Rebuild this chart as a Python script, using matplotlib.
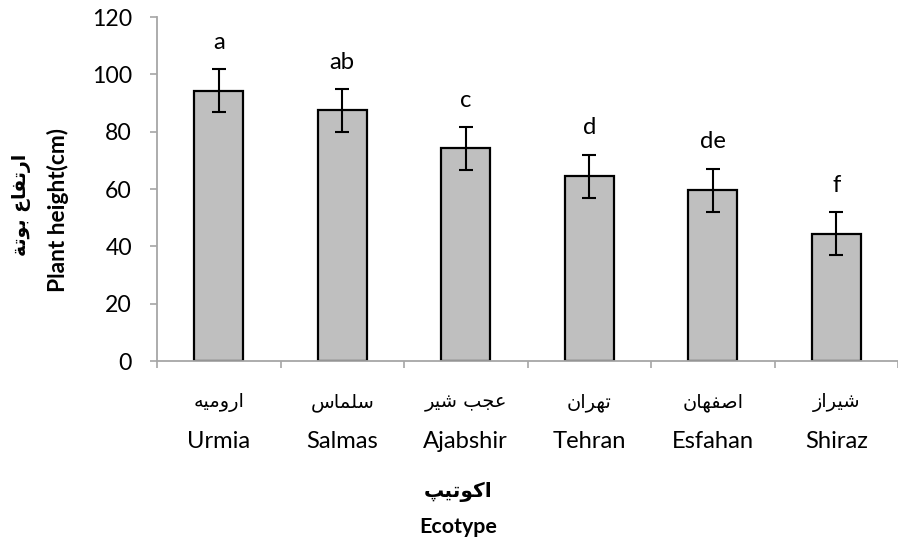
import matplotlib
matplotlib.use("Agg")
import matplotlib.pyplot as plt
from matplotlib.transforms import blended_transform_factory

# ---------------- data ----------------
ecotypes_en = ["Urmia", "Salmas", "Ajabshir", "Tehran", "Esfahan", "Shiraz"]
ecotypes_fa = ["ارومیه", "سلماس", "عجب شیر", "تهران", "اصفهان", "شیراز"]
heights = [94.3, 87.5, 74.2, 64.5, 59.6, 44.4]
errors = [7.5, 7.5, 7.5, 7.5, 7.5, 7.5]
letters = ["a", "ab", "c", "d", "de", "f"]
y_ticks = [0, 20, 40, 60, 80, 100, 120]
ylabel_fa = "ارتفاع بوتة"
ylabel_en = "Plant height(cm)"
xlabel_fa = "اکوتیپ"
xlabel_en = "Ecotype"

# ---------------- minimal Arabic/Persian shaping ----------------
FORMS = {  # iso, fin, ini, med
    "\u0627": ("\uFE8D", "\uFE8E", None, None),
    "\u0628": ("\uFE8F", "\uFE90", "\uFE91", "\uFE92"),
    "\u0629": ("\uFE93", "\uFE94", None, None),
    "\u062A": ("\uFE95", "\uFE96", "\uFE97", "\uFE98"),
    "\u062C": ("\uFE9D", "\uFE9E", "\uFE9F", "\uFEA0"),
    "\u0631": ("\uFEAD", "\uFEAE", None, None),
    "\u0632": ("\uFEAF", "\uFEB0", None, None),
    "\u0633": ("\uFEB1", "\uFEB2", "\uFEB3", "\uFEB4"),
    "\u0634": ("\uFEB5", "\uFEB6", "\uFEB7", "\uFEB8"),
    "\u0635": ("\uFEB9", "\uFEBA", "\uFEBB", "\uFEBC"),
    "\u0639": ("\uFEC9", "\uFECA", "\uFECB", "\uFECC"),
    "\u0641": ("\uFED1", "\uFED2", "\uFED3", "\uFED4"),
    "\u0643": ("\uFED9", "\uFEDA", "\uFEDB", "\uFEDC"),
    "\u0644": ("\uFEDD", "\uFEDE", "\uFEDF", "\uFEE0"),
    "\u0645": ("\uFEE1", "\uFEE2", "\uFEE3", "\uFEE4"),
    "\u0646": ("\uFEE5", "\uFEE6", "\uFEE7", "\uFEE8"),
    "\u0647": ("\uFEE9", "\uFEEA", "\uFEEB", "\uFEEC"),
    "\u0648": ("\uFEED", "\uFEEE", None, None),
    "\u064A": ("\uFEF1", "\uFEF2", "\uFEF3", "\uFEF4"),
    "\u067E": ("\uFB56", "\uFB57", "\uFB58", "\uFB59"),
    "\u06A9": ("\uFB8E", "\uFB8F", "\uFB90", "\uFB91"),
    "\u06CC": ("\uFBFC", "\uFBFD", "\uFBFE", "\uFBFF"),
}


def shape(text):
    out = []
    n = len(text)
    for i, ch in enumerate(text):
        if ch not in FORMS:
            out.append(ch)
            continue
        f = FORMS[ch]
        prev = text[i - 1] if i > 0 else None
        nxt = text[i + 1] if i < n - 1 else None
        jp = prev in FORMS and FORMS[prev][2] is not None
        jn = nxt in FORMS and f[2] is not None
        if jp and jn:
            out.append(f[3])
        elif jp:
            out.append(f[1])
        elif jn:
            out.append(f[2])
        else:
            out.append(f[0])
    return "".join(out)[::-1]


# ---------------- figure ----------------
W, H = 898, 546
fig = plt.figure(figsize=(W / 100, H / 100), dpi=100)
ax = fig.add_axes([157 / W, 1 - 361 / H, (898 - 157) / W, (361 - 17) / H])

latin = ["Lato", "DejaVu Sans"]
arab = ["DejaVu Sans"]
grey = "#a6a6a6"


def px_size(t, vertical=False):
    fig.canvas.draw()
    bb = t.get_window_extent(fig.canvas.get_renderer())
    return bb.height if vertical else bb.width


def fit(texts, ref, target, vertical=False):
    s = px_size(ref, vertical)
    for t in texts:
        t.set_fontsize(t.get_fontsize() * target / s)


x = list(range(len(ecotypes_en)))
ax.bar(x, heights, width=0.40, color="#bfbfbf", edgecolor="black",
       linewidth=1.6, zorder=2)
ax.errorbar(x, heights, yerr=errors, fmt="none", ecolor="black",
            elinewidth=1.5, capsize=5, capthick=1.5, zorder=3)
let_txt = []
for xi, h, e, lab in zip(x, heights, errors, letters):
    let_txt.append(ax.text(xi, h + e + 9.3, lab, ha="center", va="center",
                           fontsize=17, family=latin))

ax.set_xlim(-0.5, -0.5 + (898 - 157) / 124.7)
ax.set_ylim(0, 120)
ax.set_yticks(y_ticks)
ax.set_yticklabels([str(t) for t in y_ticks], family=latin, fontsize=17)
ax.set_xticks([i - 0.5 for i in range(len(x) + 1)])
ax.set_xticklabels([])
ax.tick_params(axis="y", direction="out", length=5, width=1.2, color=grey, pad=13)
ax.tick_params(axis="x", direction="out", length=5, width=1.2, color=grey)

for s in ["top", "right"]:
    ax.spines[s].set_visible(False)
for s in ["left", "bottom"]:
    ax.spines[s].set_color(grey)
    ax.spines[s].set_linewidth(1.3)

tr = blended_transform_factory(ax.transData, fig.transFigure)
fa_txt, en_txt = [], []
for xi, en, fa in zip(x, ecotypes_en, ecotypes_fa):
    fa_txt.append(ax.text(xi, 1 - 402 / H, shape(fa), ha="center",
                          va="center", fontsize=13, family=arab, transform=tr))
    en_txt.append(ax.text(xi, 1 - 448 / H, en, ha="center", va="baseline",
                          fontsize=17, family=latin, transform=tr))

xc = 1.94
xl_fa = ax.text(xc, 1 - 492 / H, shape(xlabel_fa), ha="center", va="center",
                fontsize=13, fontweight="bold", family=arab, transform=tr)
xl_en = ax.text(xc, 1 - 533 / H, xlabel_en, ha="center", va="baseline",
                fontsize=14, fontweight="bold", family=latin, transform=tr)

yl_fa = fig.text(22 / W, 1 - 205 / H, shape(ylabel_fa), rotation=90,
                 ha="center", va="center", fontsize=13, fontweight="bold",
                 family=arab)
yl_en = fig.text(58 / W, 1 - 210 / H, ylabel_en, rotation=90, ha="center",
                 va="center", fontsize=16, fontweight="bold", family=latin)

# match text sizes to the reference's measured widths (pixels)
fit(ax.get_yticklabels(), ax.get_yticklabels()[-1], 40)
fit(let_txt, let_txt[1], 25)
fit(en_txt, en_txt[2], 85)
fit(fa_txt, fa_txt[2], 82)
fit([xl_fa], xl_fa, 68)
fit([xl_en], xl_en, 78)
fit([yl_fa], yl_fa, 102, vertical=True)
fit([yl_en], yl_en, 165, vertical=True)

fig.savefig("out.png", dpi=100)
